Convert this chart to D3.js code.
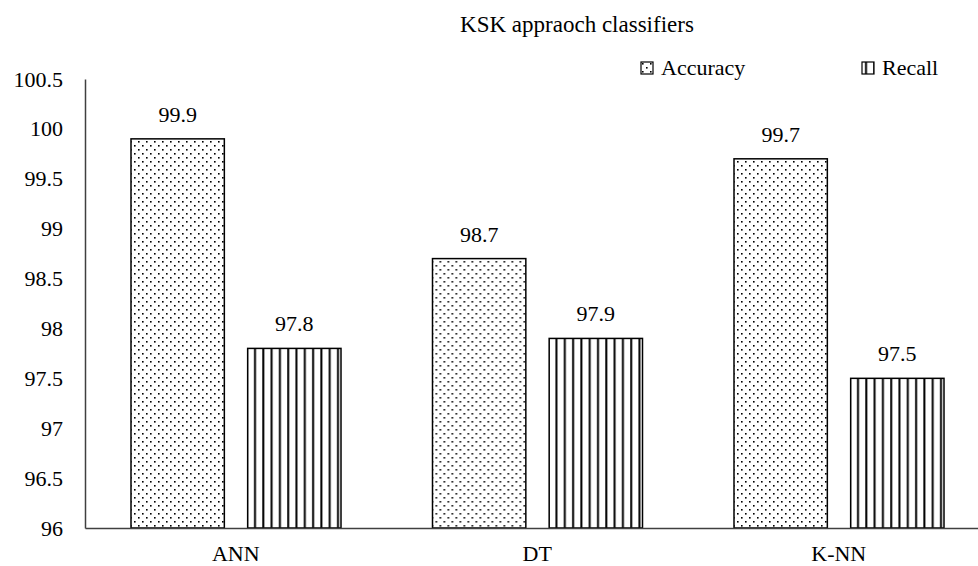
<!DOCTYPE html>
<html>
<head>
<meta charset="utf-8">
<script src="https://cdn.jsdelivr.net/npm/d3@7"></script>
<style>
  body { margin: 0; background: #fff; }
  svg text { font-family: 'Liberation Serif', serif !important; fill: #000; }
</style>
</head>
<body>
<div id="chart"></div>
<script>
var categories = ['ANN', 'DT', 'K-NN'];
var seriesNames = ['Accuracy', 'Recall'];
var accuracy = [99.9, 98.7, 99.7];
var recall = [97.8, 97.9, 97.5];
var yTicks = [96, 96.5, 97, 97.5, 98, 98.5, 99, 99.5, 100, 100.5];

var width = 978, height = 566;
var serif = "'Liberation Serif', serif";

var svg = d3.select('#chart')
    .append('svg')
    .attr('width', width)
    .attr('height', height)
    .attr('font-family', serif);

// fill patterns: dots for accuracy, vertical bars for recall
var defs = svg.append('defs');
var dots = defs.append('pattern')
    .attr('id', 'dots')
    .attr('patternUnits', 'userSpaceOnUse')
    .attr('width', 8).attr('height', 8);
dots.append('rect').attr('width', 8).attr('height', 8).attr('fill', '#fff');
dots.append('rect').attr('x', 1).attr('y', 1).attr('width', 1.6).attr('height', 1.6).attr('fill', '#000');
dots.append('rect').attr('x', 5).attr('y', 5).attr('width', 1.6).attr('height', 1.6).attr('fill', '#000');

var vlines = defs.append('pattern')
    .attr('id', 'vlines')
    .attr('patternUnits', 'userSpaceOnUse')
    .attr('width', 8.3).attr('height', 8);
vlines.append('rect').attr('width', 8.3).attr('height', 8).attr('fill', '#fff');
vlines.append('rect').attr('x', 3).attr('width', 2).attr('height', 8).attr('fill', '#000');

var fills = ['url(#dots)', 'url(#vlines)'];

var x = d3.scaleBand()
    .domain(categories)
    .range([85, 989.5])
    .paddingInner(0)
    .paddingOuter(0);

var x1 = d3.scaleBand()
    .domain(seriesNames)
    .range([46, 256])
    .paddingInner(0.2);

var y = d3.scaleLinear()
    .domain([96, 100.5])
    .range([528, 79]);

// title
svg.append('text')
    .attr('x', 577)
    .attr('y', 32)
    .attr('text-anchor', 'middle')
    .style('font-size', '23px')
    .text('KSK appraoch classifiers');

// y axis
var yAxis = svg.append('g')
    .attr('transform', 'translate(85,0)')
    .call(d3.axisLeft(y).tickValues(yTicks).tickSize(0).tickPadding(22)
        .tickFormat(function(d) { return d3.format('')(d); }));
yAxis.attr('font-family', serif);
yAxis.select('.domain').attr('stroke', '#404040').attr('stroke-width', 1.5);
yAxis.selectAll('text')
    .style('font-size', '22px');

// bars
var rows = categories.map(function(c, i) {
    return { cat: c, vals: [accuracy[i], recall[i]] };
});

var groups = svg.selectAll('.group')
    .data(rows)
    .enter()
    .append('g')
    .attr('class', 'group')
    .attr('transform', function(d) { return 'translate(' + x(d.cat) + ',0)'; });

groups.selectAll('rect')
    .data(function(d) { return d.vals; })
    .enter()
    .append('rect')
    .attr('x', function(d, i) { return x1(seriesNames[i]); })
    .attr('y', function(d) { return y(d); })
    .attr('width', x1.bandwidth())
    .attr('height', function(d) { return y(96) - y(d); })
    .attr('fill', function(d, i) { return fills[i]; })
    .attr('stroke', '#000')
    .attr('stroke-width', 1.5);

groups.selectAll('.val')
    .data(function(d) { return d.vals; })
    .enter()
    .append('text')
    .attr('class', 'val')
    .attr('x', function(d, i) { return x1(seriesNames[i]) + x1.bandwidth() / 2; })
    .attr('y', function(d) { return y(d) - 17; })
    .attr('text-anchor', 'middle')
    .style('font-size', '22px')
    .text(function(d) { return d; });

// x axis
var xAxis = svg.append('g')
    .attr('transform', 'translate(0,528)')
    .call(d3.axisBottom(x).tickSize(0).tickPadding(17));
xAxis.attr('font-family', serif);
xAxis.select('.domain').attr('stroke', '#404040').attr('stroke-width', 1.5);
xAxis.selectAll('text')
    .style('font-size', '22px');

// legend
var legendX = [641, 862];
var legend = svg.selectAll('.legend')
    .data(seriesNames)
    .enter()
    .append('g')
    .attr('class', 'legend')
    .attr('transform', function(d, i) { return 'translate(' + legendX[i] + ',62)'; });

legend.append('rect')
    .attr('width', 12)
    .attr('height', 12)
    .attr('fill', function(d, i) { return fills[i]; })
    .attr('stroke', '#000')
    .attr('stroke-width', 1.2);

legend.append('text')
    .attr('x', 20)
    .attr('y', 13)
    .style('font-size', '22px')
    .text(function(d) { return d; });
</script>
</body>
</html>
